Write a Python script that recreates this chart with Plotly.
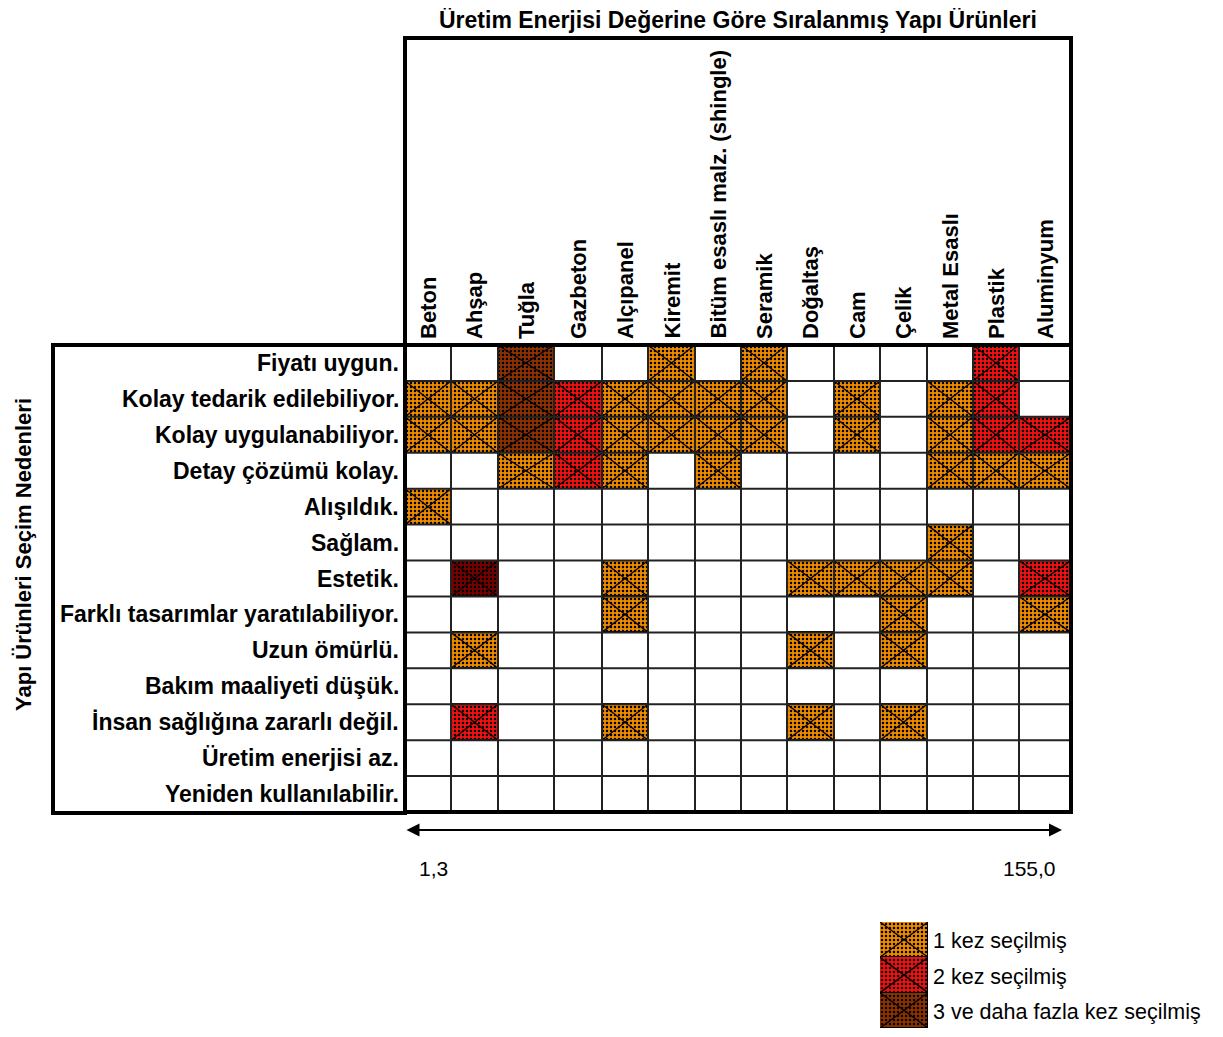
import plotly.graph_objects as go

W, H = 1223, 1037

# ---------------- data ----------------
materials = ["Beton", "Ahşap", "Tuğla", "Gazbeton", "Alçıpanel", "Kiremit",
             "Bitüm esaslı malz. (shingle)", "Seramik", "Doğaltaş", "Cam",
             "Çelik", "Metal Esaslı", "Plastik", "Aluminyum"]
reasons = ["Fiyatı uygun.", "Kolay tedarik edilebiliyor.", "Kolay uygulanabiliyor.",
           "Detay çözümü kolay.", "Alışıldık.", "Sağlam.", "Estetik.",
           "Farklı tasarımlar yaratılabiliyor.", "Uzun ömürlü.",
           "Bakım maaliyeti düşük.", "İnsan sağlığına zararlı değil.",
           "Üretim enerjisi az.", "Yeniden kullanılabilir."]
# times selected (0 = none, 1, 2, 3 = 3+, 4 = darker 3+)
counts = [
    [0, 0, 3, 0, 0, 1, 0, 1, 0, 0, 0, 0, 2, 0],
    [1, 1, 3, 2, 1, 1, 1, 1, 0, 1, 0, 1, 2, 0],
    [1, 1, 3, 2, 1, 1, 1, 1, 0, 1, 0, 1, 2, 2],
    [0, 0, 1, 2, 1, 0, 1, 0, 0, 0, 0, 1, 1, 1],
    [1, 0, 0, 0, 0, 0, 0, 0, 0, 0, 0, 0, 0, 0],
    [0, 0, 0, 0, 0, 0, 0, 0, 0, 0, 0, 1, 0, 0],
    [0, 4, 0, 0, 1, 0, 0, 0, 1, 1, 1, 1, 0, 2],
    [0, 0, 0, 0, 1, 0, 0, 0, 0, 0, 1, 0, 0, 1],
    [0, 1, 0, 0, 0, 0, 0, 0, 1, 0, 1, 0, 0, 0],
    [0, 0, 0, 0, 0, 0, 0, 0, 0, 0, 0, 0, 0, 0],
    [0, 2, 0, 0, 1, 0, 0, 0, 1, 0, 1, 0, 0, 0],
    [0, 0, 0, 0, 0, 0, 0, 0, 0, 0, 0, 0, 0, 0],
    [0, 0, 0, 0, 0, 0, 0, 0, 0, 0, 0, 0, 0, 0],
]
legend_labels = ["1 kez seçilmiş", "2 kez seçilmiş", "3 ve daha fazla kez seçilmiş"]
legend_levels = [1, 2, 3]
energy_min_label = "1,3"
energy_max_label = "155,0"
title_text = "Üretim Enerjisi Değerine Göre Sıralanmış Yapı Ürünleri"
ytitle_text = "Yapı Ürünleri Seçim Nedenleri"

# ---------------- style ----------------
level_colors = {1: "#F08A00", 2: "#F41010", 3: "#8E3000", 4: "#7A0000"}
col_widths = [46, 47, 56, 48, 46, 47, 46, 46, 47, 46, 47, 46, 46, 52]
FONT = "Liberation Sans Narrow, Arial Narrow, Liberation Sans, sans-serif"
GX0, GY0, GY1 = 405, 345, 812
GX1 = GX0 + sum(col_widths)
OFF = 8  # page body margin


def px(x):
    return (x - OFF) / W


def py(y):
    return 1 - (y - OFF) / H


bounds = [0]
for w in col_widths:
    bounds.append(bounds[-1] + w)
centers = [(bounds[i] + bounds[i + 1]) / 2 for i in range(len(col_widths))]
nrows = len(reasons)

fig = go.Figure()

# cells
for lvl in [1, 2, 3, 4]:
    xs, bs, ws = [], [], []
    for r, row in enumerate(counts):
        for c, v in enumerate(row):
            if v == lvl:
                xs.append(centers[c]); bs.append(r); ws.append(col_widths[c])
    if not xs:
        continue
    fig.add_trace(go.Bar(
        x=xs, y=[1] * len(xs), base=bs, width=ws,
        marker=dict(color=level_colors[lvl],
                    line=dict(color="black", width=1),
                    pattern=dict(shape=".", fillmode="replace",
                                 bgcolor=level_colors[lvl], fgcolor="black",
                                 size=4, solidity=0.3)),
        showlegend=False, hoverinfo="skip"))

# diagonal crosses
dx, dy = [], []
for r, row in enumerate(counts):
    for c, v in enumerate(row):
        if v:
            x0, x1 = bounds[c], bounds[c + 1]
            dx += [x0, x1, None, x0, x1, None]
            dy += [r, r + 1, None, r + 1, r, None]
fig.add_trace(go.Scatter(x=dx, y=dy, mode="lines",
                         line=dict(color="black", width=1.3),
                         showlegend=False, hoverinfo="skip"))

# legend swatches (second axes)
lx, ly = [], []
for i, lvl in enumerate(legend_levels):
    fig.add_trace(go.Bar(
        x=[0.5], y=[1], base=[i], width=[1], xaxis="x2", yaxis="y2",
        marker=dict(color=level_colors[lvl], line=dict(color="black", width=1),
                    pattern=dict(shape=".", fillmode="replace",
                                 bgcolor=level_colors[lvl], fgcolor="black",
                                 size=4, solidity=0.3)),
        showlegend=False, hoverinfo="skip"))
    lx += [0, 1, None, 0, 1, None]
    ly += [i, i + 1, None, i + 1, i, None]
fig.add_trace(go.Scatter(x=lx, y=ly, mode="lines", xaxis="x2", yaxis="y2",
                         line=dict(color="black", width=1.3),
                         showlegend=False, hoverinfo="skip"))

shapes = []
# grid lines
for b in bounds[1:-1]:
    shapes.append(dict(type="line", xref="x", yref="y", x0=b, x1=b, y0=0, y1=nrows,
                       line=dict(color="#222", width=2)))
for r in range(1, nrows):
    shapes.append(dict(type="line", xref="x", yref="y", x0=0, x1=bounds[-1], y0=r, y1=r,
                       line=dict(color="#222", width=2)))
# thick boxes
for (x0, y0, x1, y1) in [(GX0, 38, GX1, GY0), (53, GY0, GX0, GY1 + 1), (GX0, GY0, GX1, GY1)]:
    shapes.append(dict(type="rect", xref="paper", yref="paper",
                       x0=px(x0), x1=px(x1), y0=py(y1), y1=py(y0),
                       line=dict(color="black", width=4), fillcolor="rgba(0,0,0,0)",
                       layer="above"))

annotations = []
for c, name in enumerate(materials):
    annotations.append(dict(x=centers[c], xref="x", y=py(GY0 - 4), yref="paper",
                            text="<b>%s</b>" % name, textangle=-90, showarrow=False,
                            xanchor="center", yanchor="bottom",
                            font=dict(family=FONT, size=22, color="black")))
for r, name in enumerate(reasons):
    annotations.append(dict(x=px(GX0 - 4), xref="paper", y=r + 0.5, yref="y",
                            text="<b>%s</b>" % name, showarrow=False,
                            xanchor="right", yanchor="middle",
                            font=dict(family=FONT, size=23, color="black")))
annotations.append(dict(x=px(738), y=py(20), xref="paper", yref="paper",
                        text="<b>%s</b>" % title_text, showarrow=False,
                        xanchor="center", yanchor="middle",
                        font=dict(family=FONT, size=23, color="black")))
annotations.append(dict(x=px(23), y=py(555), xref="paper", yref="paper",
                        text="<b>%s</b>" % ytitle_text, showarrow=False, textangle=-90,
                        xanchor="center", yanchor="middle",
                        font=dict(family=FONT, size=22, color="black")))
# double arrow
annotations.append(dict(x=px(1062), y=py(830), xref="paper", yref="paper",
                        ax=-(1062 - 405), ay=0, text="", showarrow=True,
                        arrowhead=2, startarrowhead=2, arrowside="end+start",
                        arrowsize=1.3, arrowwidth=2, arrowcolor="black"))
annotations.append(dict(x=px(433), y=py(868), xref="paper", yref="paper",
                        text=energy_min_label, showarrow=False,
                        xanchor="center", yanchor="middle",
                        font=dict(family=FONT, size=21, color="black")))
annotations.append(dict(x=px(1029), y=py(868), xref="paper", yref="paper",
                        text=energy_max_label, showarrow=False,
                        xanchor="center", yanchor="middle",
                        font=dict(family=FONT, size=21, color="black")))
for i, lab in enumerate(legend_labels):
    annotations.append(dict(x=px(931), y=i + 0.55, xref="paper", yref="y2",
                            text=lab, showarrow=False, xanchor="left", yanchor="middle",
                            font=dict(family=FONT, size=21.5, color="black")))

fig.update_layout(
    width=W, height=H, margin=dict(l=0, r=0, t=0, b=0),
    paper_bgcolor="white", plot_bgcolor="white",
    barmode="overlay", bargap=0,
    xaxis=dict(domain=[px(GX0), px(GX1)], range=[0, bounds[-1]], visible=False,
               fixedrange=True),
    yaxis=dict(domain=[py(GY1), py(GY0)], range=[nrows, 0], visible=False,
               fixedrange=True),
    xaxis2=dict(domain=[px(880), px(928)], range=[0, 1], visible=False, anchor="y2"),
    yaxis2=dict(domain=[py(1028), py(922)], range=[3, 0], visible=False, anchor="x2"),
    shapes=shapes, annotations=annotations,
)

fig.write_html("out.html")
